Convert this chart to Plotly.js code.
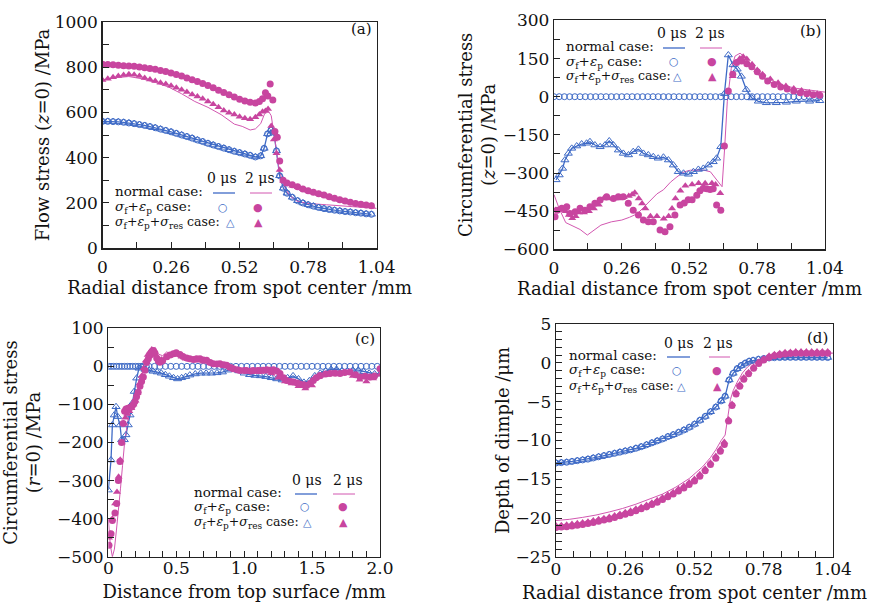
<!DOCTYPE html>
<html><head><meta charset="utf-8">
<script src="https://cdn.plot.ly/plotly-3.0.1.min.js"></script>
<style>html,body{margin:0;padding:0;background:#fff}#chart{width:874px;height:603px}</style>
</head><body><div id="chart"></div>
<script>
// ---------------- Panel (a): flow stress (z=0) ----------------
const a_x_blue = [0,0.02,0.04,0.06,0.08,0.10,0.12,0.14,0.16,0.18,0.20,0.22,0.24,0.26,0.28,0.30,0.32,0.34,0.36,0.38,0.40,0.42,0.44,0.46,0.48,0.50,0.52,0.54,0.56,0.58,0.60,0.613,0.626,0.639,0.65,0.66,0.672,0.686,0.70,0.72,0.74,0.76,0.78,0.80,0.82,0.84,0.86,0.88,0.90,0.92,0.94,0.96,0.98,1.00,1.02];
const a_blue = [560,560,559,558,556,553,550,546,542,537,532,526,520,514,507,500,493,486,478,471,463,456,449,442,435,428,422,416,410,403,408,441,505,522,512,430,320,265,243,225,210,200,192,186,180,175,171,168,165,162,160,157,155,152,150];
const a_x_pinkc = [0,0.02,0.04,0.06,0.08,0.10,0.12,0.14,0.16,0.18,0.20,0.22,0.24,0.26,0.28,0.30,0.32,0.34,0.36,0.38,0.40,0.42,0.44,0.46,0.48,0.50,0.52,0.54,0.56,0.58,0.595,0.607,0.618,0.627,0.636,0.646,0.654,0.663,0.672,0.685,0.70,0.72,0.74,0.76,0.78,0.80,0.82,0.84,0.86,0.88,0.90,0.92,0.94,0.96,0.98,1.00,1.02];
const a_pinkc = [812,811,810,808,806,805,803,800,797,794,790,785,780,774,767,760,752,744,736,727,718,708,698,688,678,668,658,650,644,641,648,660,686,672,725,655,515,490,385,300,288,280,272,262,254,247,241,235,228,221,214,209,203,198,194,191,188];
const a_x_pinkt = [0,0.02,0.04,0.06,0.08,0.10,0.12,0.14,0.16,0.18,0.20,0.22,0.24,0.26,0.28,0.30,0.32,0.34,0.36,0.38,0.40,0.42,0.44,0.46,0.48,0.50,0.52,0.54,0.56,0.58,0.595,0.607,0.618,0.628,0.64,0.65,0.66,0.672,0.685,0.70,0.72,0.74,0.76,0.78,0.80,0.82,0.84,0.86,0.88,0.90,0.92,0.94,0.96,0.98,1.00,1.02];
const a_pinkt = [743,748,755,760,765,768,766,760,752,745,738,731,725,717,709,700,690,679,670,660,648,636,622,608,598,590,580,574,570,578,590,603,606,615,540,480,420,345,298,283,276,269,261,253,246,240,234,227,220,213,208,202,197,193,190,187];
const a_x_pinkl = [0,0.05,0.10,0.15,0.20,0.25,0.30,0.35,0.40,0.45,0.50,0.53,0.56,0.58,0.60,0.615,0.628,0.64,0.655,0.67,0.69,0.71,0.74,0.78,0.85,0.95,1.04];
const a_pinkl = [742,753,758,748,732,712,682,648,622,590,548,538,522,527,550,594,608,585,470,345,272,232,207,198,192,185,176];

// ---------------- Panel (b): circumferential stress (z=0) ----------------
const b_x_bluec = [0,0.02,0.04,0.06,0.08,0.10,0.12,0.14,0.16,0.18,0.20,0.22,0.24,0.26,0.28,0.30,0.32,0.34,0.36,0.38,0.40,0.42,0.44,0.46,0.48,0.50,0.52,0.54,0.56,0.58,0.60,0.62,0.64,0.66,0.68,0.70,0.72,0.74,0.76,0.78,0.80,0.82,0.84,0.86,0.88,0.90,0.92,0.94,0.96,0.98,1.00,1.02];
const b_bluec = [0,0,0,0,0,0,0,0,0,0,0,0,0,0,0,0,0,0,0,0,0,0,0,0,0,0,0,0,0,0,0,0,0,0,0,0,0,0,0,0,0,0,0,0,0,0,0,0,0,0,0,0];
const b_x_bluet = [0.008,0.02,0.033,0.042,0.055,0.068,0.087,0.106,0.125,0.138,0.157,0.177,0.196,0.212,0.228,0.247,0.266,0.286,0.304,0.324,0.343,0.362,0.381,0.40,0.42,0.439,0.458,0.477,0.497,0.516,0.535,0.554,0.573,0.592,0.611,0.624,0.64,0.654,0.669,0.687,0.703,0.719,0.738,0.759,0.784,0.815,0.853,0.892,0.93,0.981,1.02];
const b_bluet = [-327,-308,-282,-249,-223,-203,-194,-186,-183,-177,-190,-197,-190,-174,-190,-210,-223,-229,-216,-207,-223,-229,-236,-242,-238,-249,-269,-295,-301,-305,-295,-286,-282,-269,-256,-242,-197,12,164,125,108,80,28,-5,-18,-24,-24,-22,-18,-18,-16];
const b_x_pinkc = [0.004,0.012,0.03,0.049,0.061,0.081,0.10,0.119,0.138,0.157,0.177,0.202,0.228,0.247,0.266,0.285,0.304,0.324,0.343,0.362,0.381,0.407,0.426,0.445,0.464,0.484,0.50,0.515,0.53,0.548,0.56,0.573,0.586,0.599,0.611,0.624,0.64,0.654,0.669,0.686,0.701,0.72,0.74,0.759,0.78,0.80,0.82,0.845,0.87,0.895,0.92,0.945,0.97,0.995,1.02];
const b_pinkc = [-472,-446,-439,-433,-459,-452,-439,-446,-433,-419,-406,-393,-400,-393,-393,-419,-446,-465,-485,-492,-492,-524,-531,-511,-465,-426,-418,-405,-405,-387,-370,-360,-362,-365,-362,-426,-446,-194,22,88,134,140,130,118,98,80,62,48,38,30,22,16,12,8,6];
const b_x_pinkt = [0.006,0.025,0.045,0.057,0.07,0.083,0.096,0.115,0.134,0.153,0.172,0.19,0.21,0.23,0.249,0.268,0.287,0.30,0.31,0.325,0.338,0.351,0.37,0.395,0.421,0.44,0.453,0.466,0.485,0.504,0.53,0.555,0.58,0.606,0.62,0.638,0.686,0.70,0.713,0.726,0.74,0.76,0.78,0.80,0.83,0.86,0.89,0.92,0.95,0.98,1.01];
const b_pinkt = [-445,-445,-450,-465,-478,-470,-455,-455,-450,-440,-425,-400,-400,-400,-400,-395,-390,-385,-378,-400,-420,-440,-470,-470,-480,-470,-440,-400,-370,-350,-345,-340,-340,-340,-345,-380,80,135,150,157,148,128,105,88,70,55,42,32,24,17,12];
const b_x_pinkl = [0,0.02,0.045,0.075,0.10,0.128,0.153,0.18,0.22,0.26,0.29,0.32,0.345,0.37,0.395,0.42,0.447,0.472,0.498,0.523,0.55,0.575,0.6,0.618,0.633,0.645,0.655,0.665,0.68,0.695,0.714,0.73,0.752,0.79,0.84,0.93,1.04];
const b_pinkl = [-385,-440,-495,-510,-522,-544,-525,-505,-492,-485,-474,-460,-434,-408,-382,-366,-336,-315,-296,-289,-288,-289,-295,-318,-340,-354,-200,-20,110,160,171,158,125,80,53,33,18];

// ---------------- Panel (c): circumferential stress (r=0) ----------------
const c_x_bluec = [0,0.02,0.04,0.06,0.08,0.10,0.12,0.14,0.16,0.18,0.20,0.22,0.24,0.26,0.28,0.30,0.34,0.38,0.42,0.46,0.50,0.54,0.58,0.62,0.66,0.70,0.74,0.78,0.82,0.86,0.90,0.94,0.98,1.02,1.06,1.10,1.14,1.18,1.22,1.26,1.30,1.34,1.38,1.42,1.46,1.50,1.54,1.58,1.62,1.66,1.70,1.74,1.78,1.82,1.86,1.90,1.94,1.98];
const c_bluec = [0,0,0,0,0,0,0,0,0,0,0,0,0,0,0,0,0,0,0,0,0,0,0,0,0,0,0,0,0,0,0,0,0,0,0,0,0,0,0,0,0,0,0,0,0,0,0,0,0,0,0,0,0,0,0,0,0,0];
const c_x_bluet = [0,0.02,0.03,0.044,0.057,0.069,0.086,0.098,0.118,0.13,0.147,0.16,0.177,0.191,0.209,0.226,0.246,0.27,0.30,0.33,0.36,0.39,0.42,0.45,0.48,0.51,0.54,0.57,0.60,0.64,0.68,0.72,0.76,0.80,0.84,0.88,0.92,0.96,1.00,1.04,1.08,1.12,1.16,1.20,1.24,1.28,1.32,1.36,1.40,1.44,1.48,1.52,1.56,1.60,1.64,1.68,1.72,1.76,1.80,1.84,1.88,1.92,1.96,2.00];
const c_bluet = [-325,-246,-154,-128,-106,-132,-154,-193,-193,-180,-154,-128,-97,-66,-31,-5,-1,-8,-10,-13,-15,-18,-22,-26,-30,-33,-30,-27,-23,-20,-18,-18,-18,-17,-15,-10,-6,-12,-18,-22,-24,-25,-27,-30,-33,-36,-30,-25,-33,-42,-38,-25,-18,-12,-8,-8,-12,-12,-10,-10,-14,-18,-20,-20];
const c_x_pinkc = [0.005,0.02,0.03,0.049,0.062,0.074,0.086,0.098,0.11,0.12,0.13,0.145,0.16,0.172,0.184,0.196,0.208,0.22,0.233,0.245,0.258,0.27,0.282,0.295,0.307,0.319,0.331,0.343,0.356,0.368,0.38,0.40,0.43,0.455,0.479,0.50,0.528,0.55,0.577,0.60,0.626,0.65,0.675,0.70,0.724,0.75,0.773,0.80,0.822,0.85,0.871,0.90,0.92,0.95,0.969,1.00,1.018,1.05,1.067,1.10,1.117,1.14,1.166,1.19,1.215,1.24,1.264,1.29,1.313,1.34,1.362,1.39,1.411,1.44,1.46,1.485,1.509,1.53,1.558,1.60,1.632,1.67,1.706,1.74,1.779,1.82,1.853,1.89,1.926,1.96,2.00];
const c_pinkc = [-470,-440,-405,-385,-360,-300,-250,-200,-150,-118,-112,-110,-108,-106,-100,-92,-80,-68,-52,-40,-28,-10,10,20,29,36,42,35,22,14,11,15,25,30,33,36,31,26,22,20,18,20,20,17,16,10,7,6,7,4,3,-3,-6,-9,-11,-11,-11,-12,-11,-11,-11,-10,-9,-10,-9,-12,-19,-30,-37,-40,-41,-44,-46,-48,-50,-45,-37,-30,-24,-20,-19,-18,-19,-16,-15,-22,-28,-26,-28,-25,-6];
const c_x_pinkt = [0.005,0.015,0.03,0.05,0.064,0.076,0.088,0.10,0.112,0.125,0.14,0.155,0.17,0.185,0.20,0.215,0.23,0.245,0.26,0.275,0.29,0.305,0.32,0.335,0.35,0.37,0.39,0.42,0.45,0.48,0.51,0.54,0.57,0.60,0.65,0.70,0.75,0.80,0.85,0.90,0.95,1.00,1.05,1.10,1.15,1.20,1.25,1.30,1.35,1.40,1.45,1.50,1.55,1.60,1.65,1.70,1.75,1.80,1.85,1.90,1.95,2.00];
const c_pinkt = [-450,-440,-400,-360,-330,-290,-245,-200,-150,-135,-125,-118,-110,-100,-90,-70,-45,-25,-5,15,30,38,44,40,30,20,18,22,28,32,30,25,20,18,15,12,8,4,0,-5,-10,-12,-14,-15,-14,-18,-30,-40,-45,-52,-58,-50,-28,-22,-18,-20,-18,-25,-35,-40,-32,-22];
const c_x_pinkl = [0,0.015,0.03,0.045,0.06,0.075,0.09,0.105,0.12,0.14,0.16,0.18,0.2,0.23,0.26,0.29,0.32,0.345,0.37,0.4,0.43,0.47,0.5,0.55,0.6,0.68,0.8,0.92,1.04,1.17,1.29,1.35,1.41,1.47,1.51,1.56,1.61,1.7,1.78,1.84,1.9,2.0];
const c_pinkl = [-400,-470,-500,-480,-430,-380,-320,-260,-200,-150,-112,-100,-85,-45,-8,22,42,50,32,28,38,30,33,25,20,16,7,-2,-11,-15,-37,-40,-46,-48,-41,-32,-24,-20,-19,-22,-28,-24];

// ---------------- Panel (d): depth of dimple ----------------
const d_x_blue = [0,0.02,0.04,0.06,0.08,0.10,0.12,0.14,0.16,0.18,0.20,0.22,0.24,0.26,0.28,0.30,0.32,0.34,0.36,0.38,0.40,0.42,0.44,0.46,0.48,0.50,0.52,0.54,0.56,0.58,0.60,0.62,0.635,0.65,0.665,0.68,0.695,0.71,0.725,0.74,0.76,0.78,0.80,0.82,0.84,0.86,0.88,0.90,0.92,0.94,0.96,0.98,1.00,1.02];
const d_blue = [-12.9,-12.85,-12.8,-12.7,-12.6,-12.5,-12.4,-12.25,-12.1,-11.95,-11.8,-11.65,-11.5,-11.35,-11.2,-11.0,-10.8,-10.55,-10.3,-10.05,-9.8,-9.5,-9.25,-8.95,-8.65,-8.3,-7.9,-7.4,-6.9,-6.3,-5.7,-4.9,-4.3,-2.2,-1.35,-0.75,-0.35,-0.05,0.2,0.32,0.45,0.55,0.62,0.66,0.68,0.7,0.7,0.7,0.7,0.7,0.7,0.7,0.7,0.68];
const d_x_pink = [0,0.02,0.04,0.06,0.08,0.10,0.12,0.14,0.16,0.18,0.20,0.22,0.24,0.26,0.28,0.30,0.32,0.34,0.36,0.38,0.40,0.42,0.44,0.46,0.48,0.50,0.52,0.54,0.56,0.58,0.60,0.617,0.632,0.648,0.661,0.676,0.69,0.705,0.723,0.742,0.761,0.78,0.80,0.82,0.84,0.86,0.88,0.90,0.92,0.94,0.96,0.98,1.00,1.02];
const d_pinkc = [-21.2,-21.15,-21.1,-21.0,-20.9,-20.8,-20.7,-20.55,-20.4,-20.25,-20.1,-19.9,-19.7,-19.5,-19.3,-19.05,-18.8,-18.55,-18.25,-17.95,-17.6,-17.25,-16.9,-16.5,-16.1,-15.65,-15.2,-14.6,-13.9,-13.1,-12.3,-11.4,-10.5,-7.5,-5.5,-4.0,-3.0,-2.1,-1.4,-0.7,-0.1,0.35,0.7,0.9,1.05,1.15,1.2,1.25,1.25,1.25,1.25,1.25,1.25,1.25];
const d_pinkt = [-20.95,-20.9,-20.85,-20.75,-20.65,-20.55,-20.45,-20.3,-20.15,-20.0,-19.85,-19.65,-19.45,-19.25,-19.05,-18.8,-18.55,-18.3,-18.0,-17.7,-17.35,-17.0,-16.65,-16.25,-15.85,-15.4,-14.95,-14.35,-13.65,-12.85,-12.0,-11.1,-10.2,-7.3,-5.3,-3.8,-2.8,-1.9,-1.2,-0.5,0.1,0.55,0.9,1.1,1.25,1.35,1.4,1.45,1.45,1.45,1.45,1.45,1.45,1.45];
const d_x_pinkl = [0,0.05,0.1,0.15,0.2,0.25,0.3,0.35,0.4,0.45,0.5,0.55,0.58,0.6,0.62,0.635,0.645,0.655,0.665,0.68,0.7,0.72,0.75,0.8,0.85,0.9,0.95,1.04];
const d_pinkl = [-20.3,-20.15,-19.9,-19.6,-19.2,-18.75,-18.2,-17.6,-16.9,-16.0,-14.9,-13.4,-12.2,-11.2,-10.0,-9.3,-7.0,-4.7,-3.6,-2.5,-1.3,-0.5,0.3,0.85,1.1,1.2,1.25,1.25];

// ---------------- tick labels ----------------
const tv_r = [0,0.26,0.52,0.78,1.04];
const tt_r = ["0","0.26","0.52","0.78","1.04"];
const tv_c = [0,0.5,1.0,1.5,2.0];
const tt_c = ["0","0.5","1.0","1.5","2.0"];
const tv_ya = [0,200,400,600,800,1000];
const tt_ya = ["0","200","400","600","800","1000"];
const tv_yb = [-600,-450,-300,-150,0,150,300];
const tt_yb = ["\u2212600","\u2212450","\u2212300","\u2212150","0","150","300"];
const tv_yc = [-500,-400,-300,-200,-100,0,100];
const tt_yc = ["\u2212500","\u2212400","\u2212300","\u2212200","\u2212100","0","100"];
const tv_yd = [-25,-20,-15,-10,-5,0,5];
const tt_yd = ["\u221225","\u221220","\u221215","\u221210","\u22125","0","5"];

const legendHdr = ["0 \u03bcs", "2 \u03bcs"];
const legendRows = [
  "normal case:",
  '<i>\u03c3</i><sub><span style="font-size:9px">f</span></sub>+<i>\u03b5</i><sub><span style="font-size:9px">p</span></sub> case:',
  '<i>\u03c3</i><sub><span style="font-size:9px">f</span></sub>+<i>\u03b5</i><sub><span style="font-size:9px">p</span></sub>+<i>\u03c3</i><sub><span style="font-size:9px">res</span></sub> case:'
];

// ---------------- styling ----------------
const W = 874, H = 603;
const FONT = "DejaVu Serif";
const BLUE = "#3e6ac6", PINK = "#c8459f", PINKL = "#d257b0";
const fx = p => p / W, fy = p => 1 - p / H;

function lineT(ax, x, y, color, w) {
  return {type:"scatter", mode:"lines", x, y, xaxis:"x"+ax, yaxis:"y"+ax, line:{color, width:w}, showlegend:false, hoverinfo:"skip"};
}
function markT(ax, x, y, symbol, color, size) {
  const open = symbol.indexOf("open") >= 0;
  return {type:"scatter", mode:"markers", x, y, xaxis:"x"+ax, yaxis:"y"+ax,
    marker:{symbol, size, color, line:{color, width: open ? 1 : 0}}, showlegend:false, hoverinfo:"skip"};
}
const AX = a => a === 1 ? "" : String(a);

const traces = [];
function panel(a, bl, blx, plx, pl, bcx, bc, btx, bt, pcx, pc, ptx, pt) {
  const k = AX(a);
  traces.push(lineT(k, blx, bl, BLUE, 1.3));
  traces.push(lineT(k, plx, pl, PINKL, 1.0));
  traces.push(markT(k, bcx, bc, "circle-open", BLUE, 6));
  traces.push(markT(k, btx, bt, "triangle-up-open", BLUE, 7));
  traces.push(markT(k, ptx, pt, "triangle-up", PINK, 7));
  traces.push(markT(k, pcx, pc, "circle", PINK, 7));
}
panel(1, a_blue, a_x_blue, a_x_pinkl, a_pinkl, a_x_blue, a_blue, a_x_blue, a_blue, a_x_pinkc, a_pinkc, a_x_pinkt, a_pinkt);
panel(2, b_bluet, b_x_bluet, b_x_pinkl, b_pinkl, b_x_bluec, b_bluec, b_x_bluet, b_bluet, b_x_pinkc, b_pinkc, b_x_pinkt, b_pinkt);
panel(3, c_bluet, c_x_bluet, c_x_pinkl, c_pinkl, c_x_bluec, c_bluec, c_x_bluet, c_bluet, c_x_pinkc, c_pinkc, c_x_pinkt, c_pinkt);
panel(4, d_blue, d_x_blue, d_x_pinkl, d_pinkl, d_x_blue, d_blue, d_x_blue, d_blue, d_x_pink, d_pinkc, d_x_pink, d_pinkt);

function axis(dom, anchor, range, tv, tt, minorStep, title, standoff, labOff) {
  const o = {domain:dom, anchor, range, tickmode:"array", tickvals:tv, ticktext:tt,
    ticks:"inside", ticklen:6, tickwidth:1, tickcolor:"#222",
    minor:{tickmode:"linear", tick0:0, dtick:minorStep, ticks:"inside", ticklen:6, tickwidth:1, tickcolor:"#222", showgrid:false},
    showline:true, mirror:true, linecolor:"#222", linewidth:1.2,
    showgrid:false, zeroline:false, automargin:false, fixedrange:true,
    tickfont:{family:FONT, size:17, color:"#111"},
    title:{text:title, font:{family:FONT, size:18, color:"#111"}, standoff}};
  if (labOff !== undefined) o.ticklabelstandoff = labOff;
  return o;
}
// plot boxes in pixels [x0,x1,y0(top),y1(bottom)]
const box = {a:[102.5,376.7,21.7,248.3], b:[554,825,20.4,249.3], c:[108.3,380,328.3,556.7], d:[556,833,324,557]};
const dx = b => [fx(b[0]), fx(b[1])], dy = b => [fy(b[3]), fy(b[2])];

const layout = {
  width:W, height:H, margin:{l:0,r:0,t:0,b:0}, paper_bgcolor:"#fff", plot_bgcolor:"#fff",
  font:{family:FONT, color:"#111"}, showlegend:false,
  xaxis: axis(dx(box.a),"y",[0,1.04],tv_r,tt_r,0.13,"Radial distance from spot center /mm",4,3),
  yaxis: axis(dy(box.a),"x",[0,1000],tv_ya,tt_ya,100,"Flow stress (<i>z</i>=0) /MPa",0),
  xaxis2: axis(dx(box.b),"y2",[0,1.04],tv_r,tt_r,0.13,"Radial distance from spot center /mm",4,3),
  yaxis2: axis(dy(box.b),"x2",[-600,300],tv_yb,tt_yb,75,"Circumferential stress<br>(<i>z</i>=0) /MPa",2),
  xaxis3: axis(dx(box.c),"y3",[0,2.0],tv_c,tt_c,0.1,"Distance from top surface /mm",8,-4),
  yaxis3: axis(dy(box.c),"x3",[-500,100],tv_yc,tt_yc,50,"Circumferential stress<br>(<i>r</i>=0) /MPa",11),
  xaxis4: axis(dx(box.d),"y4",[0,1.04],tv_r,tt_r,0.065,"Radial distance from spot center /mm",9,-4),
  yaxis4: axis(dy(box.d),"x4",[-25,5],tv_yd,tt_yd,1,"Depth of dimple /\u03bcm",1),
  annotations:[], shapes:[]
};

// legend boxes (pixel positions of the in-plot legends)
const legends = [
  {left:113, hdr:178, rows:[191,207,222], h0:222, h2:260, bl:[213,235], pl:[250,272], bc:223, bt:231, pc:258, pt:258},
  {left:564, hdr:33, rows:[46,62,77], h0:672, h2:710, bl:[663,685], pl:[700,722], bc:674, bt:677, pc:712, pt:712},
  {left:192, hdr:480, rows:[492,507,522], h0:307, h2:348, bl:[295,317], pl:[333,355], bc:305, bt:307, pc:343, pt:343},
  {left:567, hdr:343, rows:[355,370,386], h0:679, h2:718, bl:[667,690], pl:[709,730], bc:677, bt:681, pc:717, pt:717}
];
function ann(x, y, text, opts) {
  layout.annotations.push(Object.assign({xref:"paper", yref:"paper", x:fx(x), y:fy(y), text, showarrow:false,
    xanchor:"left", yanchor:"middle", font:{family:FONT, size:13.5, color:"#111"}}, opts || {}));
}
legends.forEach(L => {
  ann(L.h0, L.hdr, legendHdr[0], {xanchor:"center", font:{family:FONT, size:14, color:"#111"}});
  ann(L.h2, L.hdr, legendHdr[1], {xanchor:"center", font:{family:FONT, size:14, color:"#111"}});
  legendRows.forEach((t, i) => ann(L.left, L.rows[i], t, i === 2 ? {font:{family:FONT, size:12.5, color:"#111"}} : {}));
  layout.shapes.push({type:"line", xref:"paper", yref:"paper", x0:fx(L.bl[0]), x1:fx(L.bl[1]), y0:fy(L.rows[0]+2), y1:fy(L.rows[0]+2), line:{color:BLUE, width:1.3}});
  layout.shapes.push({type:"line", xref:"paper", yref:"paper", x0:fx(L.pl[0]), x1:fx(L.pl[1]), y0:fy(L.rows[0]+2), y1:fy(L.rows[0]+2), line:{color:PINKL, width:1}});
  const sym = {family:"DejaVu Sans", size:11};
  ann(L.bc, L.rows[1], "\u25cb", {xanchor:"center", font:Object.assign({color:BLUE}, sym)});
  ann(L.pc, L.rows[1], "\u25cf", {xanchor:"center", font:Object.assign({color:PINK}, sym)});
  ann(L.bt, L.rows[2], "\u25b3", {xanchor:"center", font:Object.assign({color:BLUE}, sym)});
  ann(L.pt, L.rows[2], "\u25b2", {xanchor:"center", font:Object.assign({color:PINK}, sym)});
});
// panel labels
[["(a)",361,29],["(b)",810,31],["(c)",365,339],["(d)",817,338]].forEach(p =>
  ann(p[1], p[2], p[0], {xanchor:"center", font:{family:FONT, size:15, color:"#111"}}));

Plotly.newPlot("chart", traces, layout, {staticPlot:true, displayModeBar:false});
</script></body></html>
